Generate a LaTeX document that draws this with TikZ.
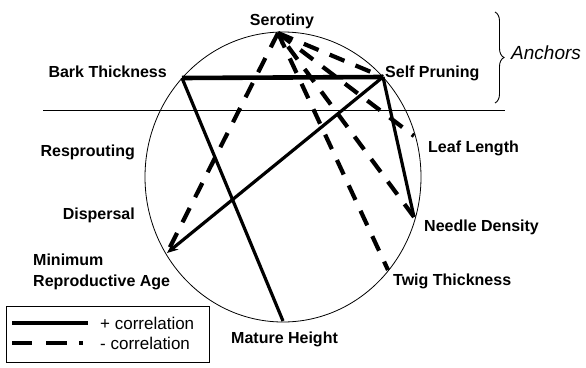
\documentclass[tikz,border=0pt]{standalone}
\usepackage{fontspec}
\setmainfont{Liberation Sans}
\usetikzlibrary{arrows.meta,decorations.pathreplacing}
\tikzset{
  trait/.style={font=\fontsize{16}{21}\selectfont\bfseries, inner sep=0pt},
  legtext/.style={font=\fontsize{17}{20}\selectfont, inner sep=0pt, anchor=west},
  poscor/.style={line width=3.2pt},
  negcor/.style={line width=4.2pt, dash pattern=on 16pt off 12pt},
  tip/.style={-{Stealth[length=11pt,width=9pt]}},
}
\begin{document}
\begin{tikzpicture}[x=1pt,y=-1pt]
\useasboundingbox (0,0) rectangle (586,367);
% circle of traits and the anchor line
\draw[line width=0.8pt] (283,177) ellipse [x radius=138pt, y radius=145pt];
\draw[line width=0.8pt] (43,110) -- (505,110);
% points on the circle
\coordinate (sero) at (278,33);
\coordinate (prune) at (383,77);
\coordinate (bark) at (182,78);
\coordinate (leaf) at (414,136);
\coordinate (needle) at (414,217);
\coordinate (twig) at (388,270);
\coordinate (height) at (283,321);
\coordinate (minage) at (167,253);
% trait labels
\node[trait, anchor=base] (lsero) at (282,25) {Serotiny};
\node[trait, anchor=base west] (lprune) at (385,77) {Self Pruning};
\node[trait, anchor=base east] (lbark) at (167,77) {Bark Thickness};
\node[trait, anchor=base east] (lresp) at (135,156) {Resprouting};
\node[trait, anchor=base east] (ldisp) at (135,219) {Dispersal};
\node[trait, anchor=west, align=left] (lminage) at (33,272) {Minimum\\Reproductive Age};
\node[trait, anchor=base west] (lleaf) at (428,152) {Leaf Length};
\node[trait, anchor=base west] (lneedle) at (424,231) {Needle Density};
\node[trait, anchor=base west] (ltwig) at (393,285) {Twig Thickness};
\node[trait, anchor=base west] (lheight) at (231,343) {Mature Height};
% anchors brace
\coordinate (btop) at (495,12);
\coordinate (bbot) at (495,103);
\draw[line width=0.9pt, decorate, decoration={brace, amplitude=9pt}] (btop) -- (bbot);
\node[font=\fontsize{19}{22}\selectfont\itshape, inner sep=0pt, anchor=base west] (lanch) at (511,59) {Anchors};
% positive correlations
\draw[poscor, line width=4.6pt] (bark) -- (prune);
\draw[poscor] (bark) -- (height);
\draw[poscor] (prune) -- (needle);
\draw[poscor, tip] (prune) -- (minage);
% negative correlations
\draw[negcor] (sero) -- (prune);
\draw[negcor] (sero) -- (leaf);
\draw[negcor, tip] (needle) -- (sero);
\draw[negcor] (sero) -- (twig);
\draw[negcor] (sero) -- (minage);
% legend
\draw[line width=0.8pt] (6,306) rectangle (209,362);
\node[legtext] (lplus) at (100,323) {+ correlation};
\node[legtext] (lminus) at (100,343) {- correlation};
\coordinate (pa) at (12,323);
\coordinate (ma) at (12,343);
\draw[poscor, line width=4.6pt] (pa) -- (88,323);
\draw[negcor, dash pattern=on 20pt off 14pt on 21pt off 12pt on 4pt off 12pt] (ma) -- (84,343);
\end{tikzpicture}
\end{document}
